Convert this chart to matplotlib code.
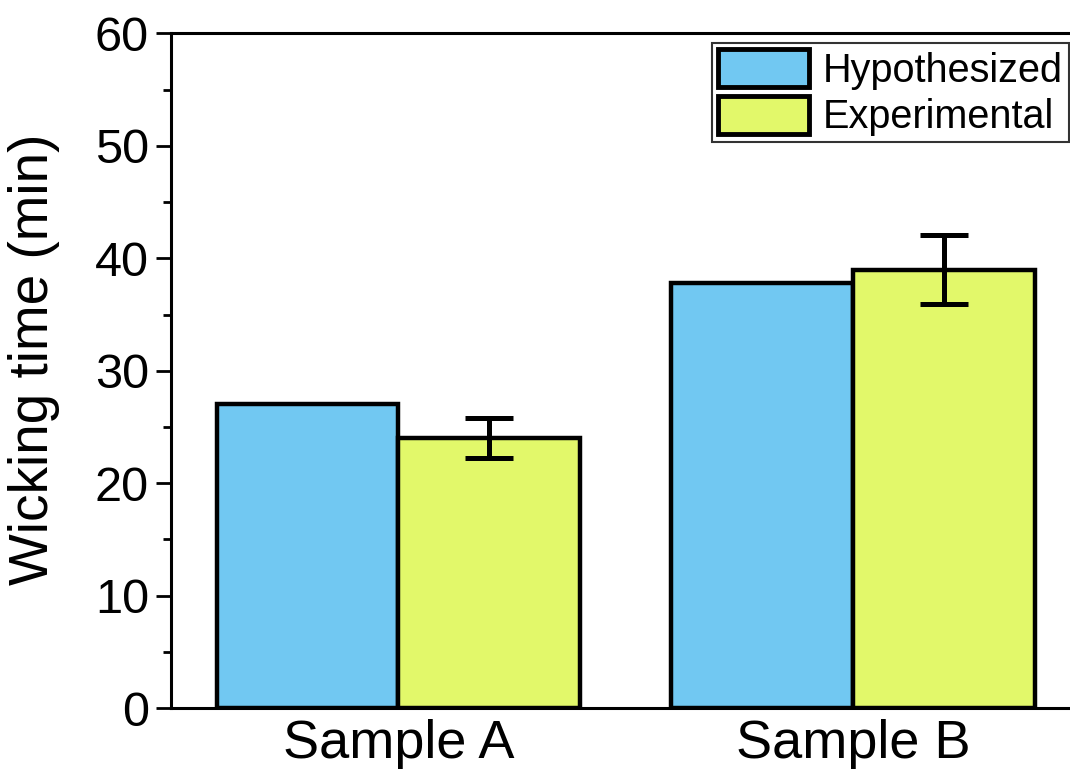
import numpy as np
import matplotlib
matplotlib.use("Agg")
import matplotlib.pyplot as plt
from matplotlib.ticker import MultipleLocator

plt.rcParams['font.family'] = ['Liberation Sans', 'DejaVu Sans']

samples = ['Sample A', 'Sample B']
hypothesized = [27.0, 37.8]
experimental = [24.0, 39.0]
experimental_err = [1.8, 3.1]

blue = '#71C8F2'
yellow = '#E2F86A'

fig = plt.figure(figsize=(10.70, 7.74), dpi=100)
ax = fig.add_axes([0.16, 0.085, 0.8495, 0.872])

x = np.arange(len(samples))
w = 0.4
ax.bar(x - w / 2, hypothesized, w, color=blue, edgecolor='black',
       linewidth=3.2, label='Hypothesized', zorder=2)
ax.bar(x + w / 2, experimental, w, color=yellow, edgecolor='black',
       linewidth=3.2, label='Experimental', zorder=2)
eb = ax.errorbar(x + w / 2, experimental, yerr=experimental_err, fmt='none',
                 ecolor='black', elinewidth=3.6, capsize=17, capthick=3.6, zorder=3)
for ln in eb.lines[1]:
    ln.set_solid_capstyle('round')
for lc in eb.lines[2]:
    lc.set_capstyle('round')

ax.set_xlim(-0.5, 1.5)
ax.set_ylim(0, 60)
ax.set_xticks(x)
ax.set_xticklabels(samples, fontsize=39)
ax.tick_params(axis='x', length=0, pad=8)
ax.yaxis.set_major_locator(MultipleLocator(10))
ax.yaxis.set_minor_locator(MultipleLocator(5))
ax.tick_params(axis='y', which='major', length=11, width=2, labelsize=35, pad=5)
ax.tick_params(axis='y', which='minor', length=6, width=2)
ax.set_ylabel('Wicking time (min)', fontsize=39.5)
ax.yaxis.set_label_coords(-0.122, 0.517)

for s in ax.spines.values():
    s.set_linewidth(2.2)

leg = ax.legend(loc='upper right', bbox_to_anchor=(0.999, 0.944),
                bbox_transform=fig.transFigure, fontsize=28.5,
                frameon=True, fancybox=False, edgecolor='black',
                handlelength=2.3, handleheight=1.1, labelspacing=0.15,
                borderpad=0.15, handletextpad=0.35, borderaxespad=0)
leg.get_frame().set_linewidth(1.5)
for p in leg.get_patches():
    p.set_linewidth(3.5)

fig.savefig('out.png', dpi=100)
